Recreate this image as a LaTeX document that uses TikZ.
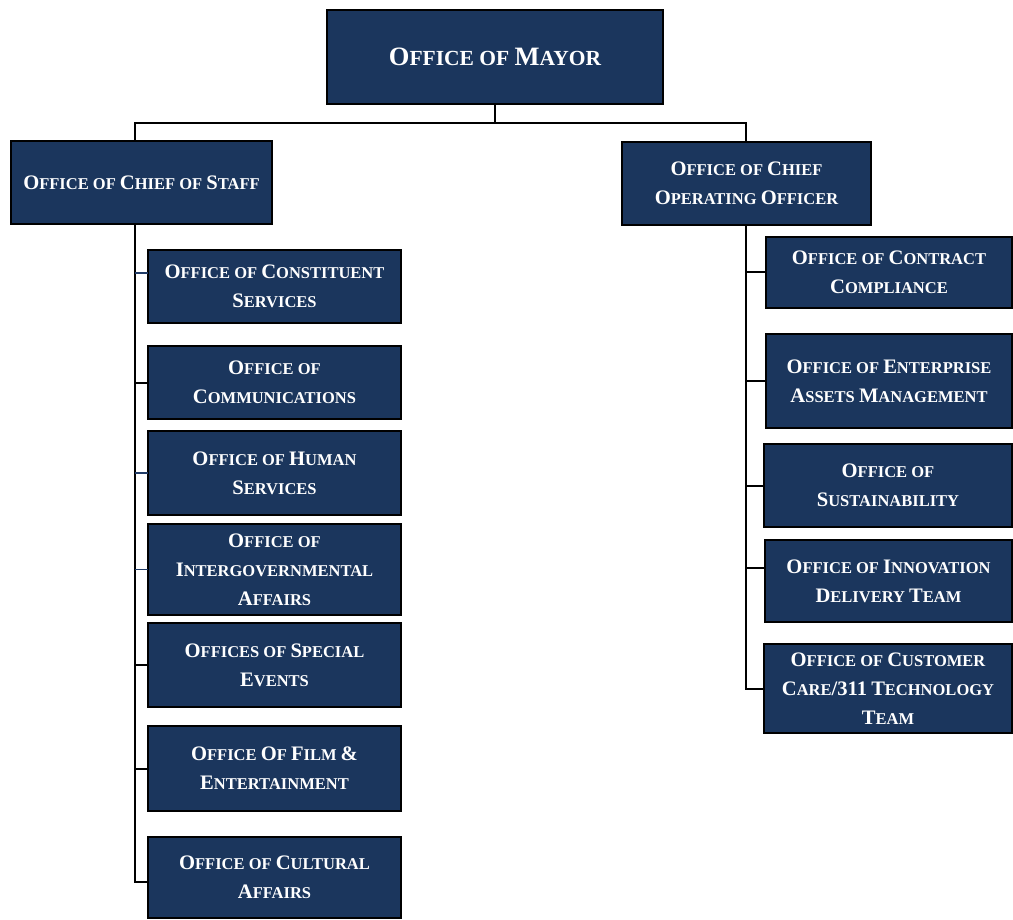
\documentclass[tikz,border=0pt]{standalone}
\usepackage{fontspec}
\setmainfont{Liberation Serif}
\definecolor{boxfill}{HTML}{1B365D}
\definecolor{linkblue}{HTML}{1F3A66}
% capital letter of a small-caps word
\newcommand\Cp[1]{{\fontsize{20.6}{29}\selectfont #1}}
\newcommand\CpBig[1]{{\fontsize{26.5}{32}\selectfont #1}}
\tikzset{
  unit/.style={draw=black, line width=1.8pt, fill=boxfill, text=white,
    font=\bfseries\fontsize{16.5}{29}\selectfont, align=center,
    inner sep=0pt, outer sep=0pt},
  link/.style={draw=black, line width=2pt},
  thinlink/.style={draw=linkblue, line width=1.6pt},
}
\begin{document}
\begin{tikzpicture}[x=1pt, y=-1pt]
\useasboundingbox (0,0) rectangle (1013,920);

% top level
\node[unit, minimum width=336pt, minimum height=94pt,
      font=\bfseries\fontsize{21.5}{32}\selectfont] (mayor) at (495,57)
  {\CpBig{O}FFICE OF \CpBig{M}AYOR};

% second level
\node[unit, minimum width=261pt, minimum height=83pt] (cos) at (141.5,182.5)
  {\Cp{O}FFICE OF \Cp{C}HIEF OF \Cp{S}TAFF};
\node[unit, minimum width=249pt, minimum height=83pt] (coo) at (746.5,183.5)
  {\Cp{O}FFICE OF \Cp{C}HIEF\\\Cp{O}PERATING \Cp{O}FFICER};

% offices under the chief of staff
\node[unit, minimum width=253pt, minimum height=73pt] (L1) at (274.5,286.5)
  {\Cp{O}FFICE OF \Cp{C}ONSTITUENT\\\Cp{S}ERVICES};
\node[unit, minimum width=253pt, minimum height=73pt] (L2) at (274.5,382.5)
  {\Cp{O}FFICE OF\\\Cp{C}OMMUNICATIONS};
\node[unit, minimum width=253pt, minimum height=84pt] (L3) at (274.5,473)
  {\Cp{O}FFICE OF \Cp{H}UMAN\\\Cp{S}ERVICES};
\node[unit, minimum width=253pt, minimum height=91pt] (L4) at (274.5,569.5)
  {\Cp{O}FFICE OF\\\Cp{I}NTERGOVERNMENTAL\\\Cp{A}FFAIRS};
\node[unit, minimum width=253pt, minimum height=84pt] (L5) at (274.5,665)
  {\Cp{O}FFICES OF \Cp{S}PECIAL\\\Cp{E}VENTS};
\node[unit, minimum width=253pt, minimum height=85pt] (L6) at (274.5,768.5)
  {\Cp{O}FFICE \Cp{O}F \Cp{F}ILM \Cp{\&}\\\Cp{E}NTERTAINMENT};
\node[unit, minimum width=253pt, minimum height=81pt] (L7) at (274.5,877.5)
  {\Cp{O}FFICE OF \Cp{C}ULTURAL\\\Cp{A}FFAIRS};

% offices under the chief operating officer
\node[unit, minimum width=246pt, minimum height=71pt] (R1) at (889,272.5)
  {\Cp{O}FFICE OF \Cp{C}ONTRACT\\\Cp{C}OMPLIANCE};
\node[unit, minimum width=246pt, minimum height=94pt] (R2) at (889,381)
  {\Cp{O}FFICE OF \Cp{E}NTERPRISE\\\Cp{A}SSETS \Cp{M}ANAGEMENT};
\node[unit, minimum width=248pt, minimum height=83pt] (R3) at (888,485.5)
  {\Cp{O}FFICE OF\\\Cp{S}USTAINABILITY};
\node[unit, minimum width=247pt, minimum height=82pt] (R4) at (888.5,581)
  {\Cp{O}FFICE OF \Cp{I}NNOVATION\\\Cp{D}ELIVERY \Cp{T}EAM};
\node[unit, minimum width=248pt, minimum height=89pt] (R5) at (888,688.5)
  {\Cp{O}FFICE OF \Cp{C}USTOMER\\\Cp{C}ARE\Cp{/311} \Cp{T}ECHNOLOGY\\\Cp{T}EAM};

% spines, bus and branch points
\coordinate (spineL) at (135,0);
\coordinate (spineR) at (746,0);
\coordinate (bus) at (495,123);
\coordinate (L1in) at ([yshift=13.5pt]L1.west);
\coordinate (L7in) at ([yshift=-4.5pt]L7.west);
\coordinate (R4in) at ([yshift=13pt]R4.west);

\draw[link] (mayor.south) -- (bus);
\draw[link] (spineL |- cos.north) -- (spineL |- bus) -- (spineR |- bus)
  -- (spineR |- coo.north);

\draw[link] (spineL |- cos.south) |- (L7in);
\draw[link] (spineR |- coo.south) |- (R5.west);

% branches on the left
\draw[thinlink] (spineL |- L1in) -- (L1in);
\draw[link] (spineL |- L2.west) -- (L2.west);
\draw[thinlink] (spineL |- L3.west) -- (L3.west);
\draw[thinlink] (spineL |- L4.west) -- (L4.west);
\draw[link] (spineL |- L5.west) -- (L5.west);
\draw[link] (spineL |- L6.west) -- (L6.west);

% branches on the right
\draw[link] (spineR |- R1.west) -- (R1.west);
\draw[link] (spineR |- R2.west) -- (R2.west);
\draw[link] (spineR |- R3.west) -- (R3.west);
\draw[link] (spineR |- R4in) -- (R4in);
\end{tikzpicture}
\end{document}
